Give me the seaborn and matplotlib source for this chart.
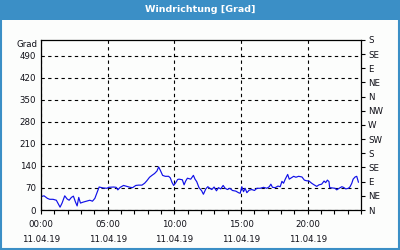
import numpy as np
import pandas as pd
import matplotlib
matplotlib.use("Agg")
import matplotlib.pyplot as plt
import seaborn as sns
from matplotlib.patches import Rectangle

# ---- data (hours since 00:00 on 11.04.19, wind direction in degrees) ----
hours = [0.03, 0.23, 0.48, 0.65, 0.90, 1.15, 1.28, 1.43, 1.58, 1.78, 1.96, 2.11, 2.28, 2.43,
         2.58, 2.71, 2.83, 2.96, 3.16, 3.41, 3.66, 3.86, 4.04, 4.24, 4.36, 4.66, 4.96, 5.06,
         5.44, 5.64, 5.76, 5.94, 6.19, 6.44, 6.69, 6.87, 7.11, 7.31, 7.57, 7.77, 7.94, 8.14,
         8.32, 8.52, 8.70, 8.82, 8.95, 9.12, 9.32, 9.57, 9.70, 9.82, 9.95, 10.08, 10.25, 10.35,
         10.60, 10.73, 10.85, 10.98, 11.23, 11.43, 11.55, 11.68, 11.85, 12.05, 12.18, 12.36,
         12.51, 12.66, 12.81, 12.98, 13.16, 13.31, 13.48, 13.66, 13.81, 13.98, 14.16, 14.36,
         14.61, 14.81, 14.94, 15.06, 15.19, 15.31, 15.44, 15.61, 15.81, 16.01, 16.19, 16.44,
         16.69, 16.94, 17.12, 17.24, 17.36, 17.57, 17.77, 17.94, 18.07, 18.19, 18.32, 18.50,
         18.62, 18.77, 18.95, 19.12, 19.32, 19.57, 19.75, 19.90, 20.10, 20.30, 20.48, 20.68,
         20.85, 21.05, 21.23, 21.35, 21.48, 21.60, 21.65, 21.85, 22.05, 22.18, 22.36, 22.56,
         22.68, 22.86, 23.06, 23.18, 23.31, 23.41, 23.56, 23.68, 23.81]
direction = [43, 45, 37, 34, 34, 31, 21, 9, 22, 45, 35, 31, 40, 44,
             26, 13, 40, 22, 25, 28, 31, 28, 37, 60, 73, 70, 69, 72,
             73, 72, 64, 72, 78, 75, 72, 71, 78, 79, 79, 85, 93, 104,
             110, 116, 124, 137, 126, 110, 107, 107, 102, 88, 78, 85, 97, 98,
             96, 80, 92, 101, 98, 110, 98, 90, 71, 61, 50, 67,
             74, 69, 65, 73, 61, 71, 67, 78, 69, 65, 69, 62,
             60, 55, 53, 74, 58, 69, 55, 63, 65, 62, 69, 69,
             72, 69, 74, 82, 72, 71, 76, 74, 91, 85, 98, 113,
             98, 102, 107, 104, 107, 105, 95, 93, 92, 85, 80, 75,
             80, 82, 92, 87, 95, 90, 71, 70, 69, 64, 69, 74,
             72, 67, 69, 74, 85, 98, 105, 107, 88]

x_ticks = [0, 5, 10, 15, 20]
x_labels = ["00:00\n11.04.19", "05:00\n11.04.19", "10:00\n11.04.19",
            "15:00\n11.04.19", "20:00\n11.04.19"]
y_ticks = [0, 70, 140, 210, 280, 350, 420, 490]
compass_ticks = [0, 45, 90, 135, 180, 225, 270, 315, 360, 405, 450, 495, 540]
compass_labels = ["N", "NE", "E", "SE", "S", "SW", "W", "NW", "N", "NE", "E", "SE", "S"]

df = pd.DataFrame({"hour": hours, "dir": direction})

sns.set_style("white")
plt.rcParams["font.family"] = ["DejaVu Sans"]

BLUE = "#3b8fc6"
TXT = "#101018"
FS = 6.2
fig = plt.figure(figsize=(4, 2.5), dpi=100, facecolor="#fcfdfc")
ax = fig.add_axes([41 / 400, 40 / 250, 320 / 400, 170 / 250])
ax.set_facecolor("#fcfdfc")

sns.lineplot(data=df, x="hour", y="dir", ax=ax, color="#1010e8", linewidth=0.85)

ax.set_xlim(0, 24)
ax.set_ylim(0, 540)
ax.set_xticks(x_ticks)
ax.set_xticklabels(x_labels, fontsize=FS, linespacing=1.85, color=TXT)
ax.set_xticks(range(0, 25), minor=True)
ax.set_yticks(y_ticks)
ax.set_yticklabels([str(v) for v in y_ticks], fontsize=FS, color=TXT)
ax.set_xlabel("")
ax.set_ylabel("")
ax.tick_params(axis="x", which="both", direction="out", length=3, width=0.8,
               color="black", pad=4, bottom=True)
ax.tick_params(axis="y", which="both", length=0, pad=3.5, left=True)
for s in ax.spines.values():
    s.set_color("black")
    s.set_linewidth(0.9)
ax.grid(True, which="major", axis="both", color="black", linestyle=(0, (3, 3)),
        linewidth=0.8)

ax2 = ax.twinx()
ax2.set_ylim(0, 540)
ax2.set_yticks(compass_ticks)
ax2.set_yticklabels(compass_labels, fontsize=FS, color=TXT)
ax2.tick_params(axis="y", direction="out", length=3, width=0.8, color="black", pad=2,
                right=True)
for s in ax2.spines.values():
    s.set_visible(False)
ax2.grid(False)

ax.text(-0.012, 1.0, "Grad", transform=ax.transAxes, ha="right", va="top",
        fontsize=FS, color=TXT)

# title bar and border
fig.patches.append(Rectangle((0, 230 / 250), 1, 20 / 250, transform=fig.transFigure,
                             facecolor=BLUE, edgecolor="none", zorder=0))
fig.patches.append(Rectangle((0.0025, 0.004), 0.995, 0.992, transform=fig.transFigure,
                             facecolor="none", edgecolor=BLUE, linewidth=1.5, zorder=5))
fig.text(0.5, 240 / 250, "Windrichtung [Grad]", ha="center", va="center",
         fontsize=6.8, fontweight="bold", color="white")

fig.savefig("out.png", dpi=100, facecolor=fig.get_facecolor())
